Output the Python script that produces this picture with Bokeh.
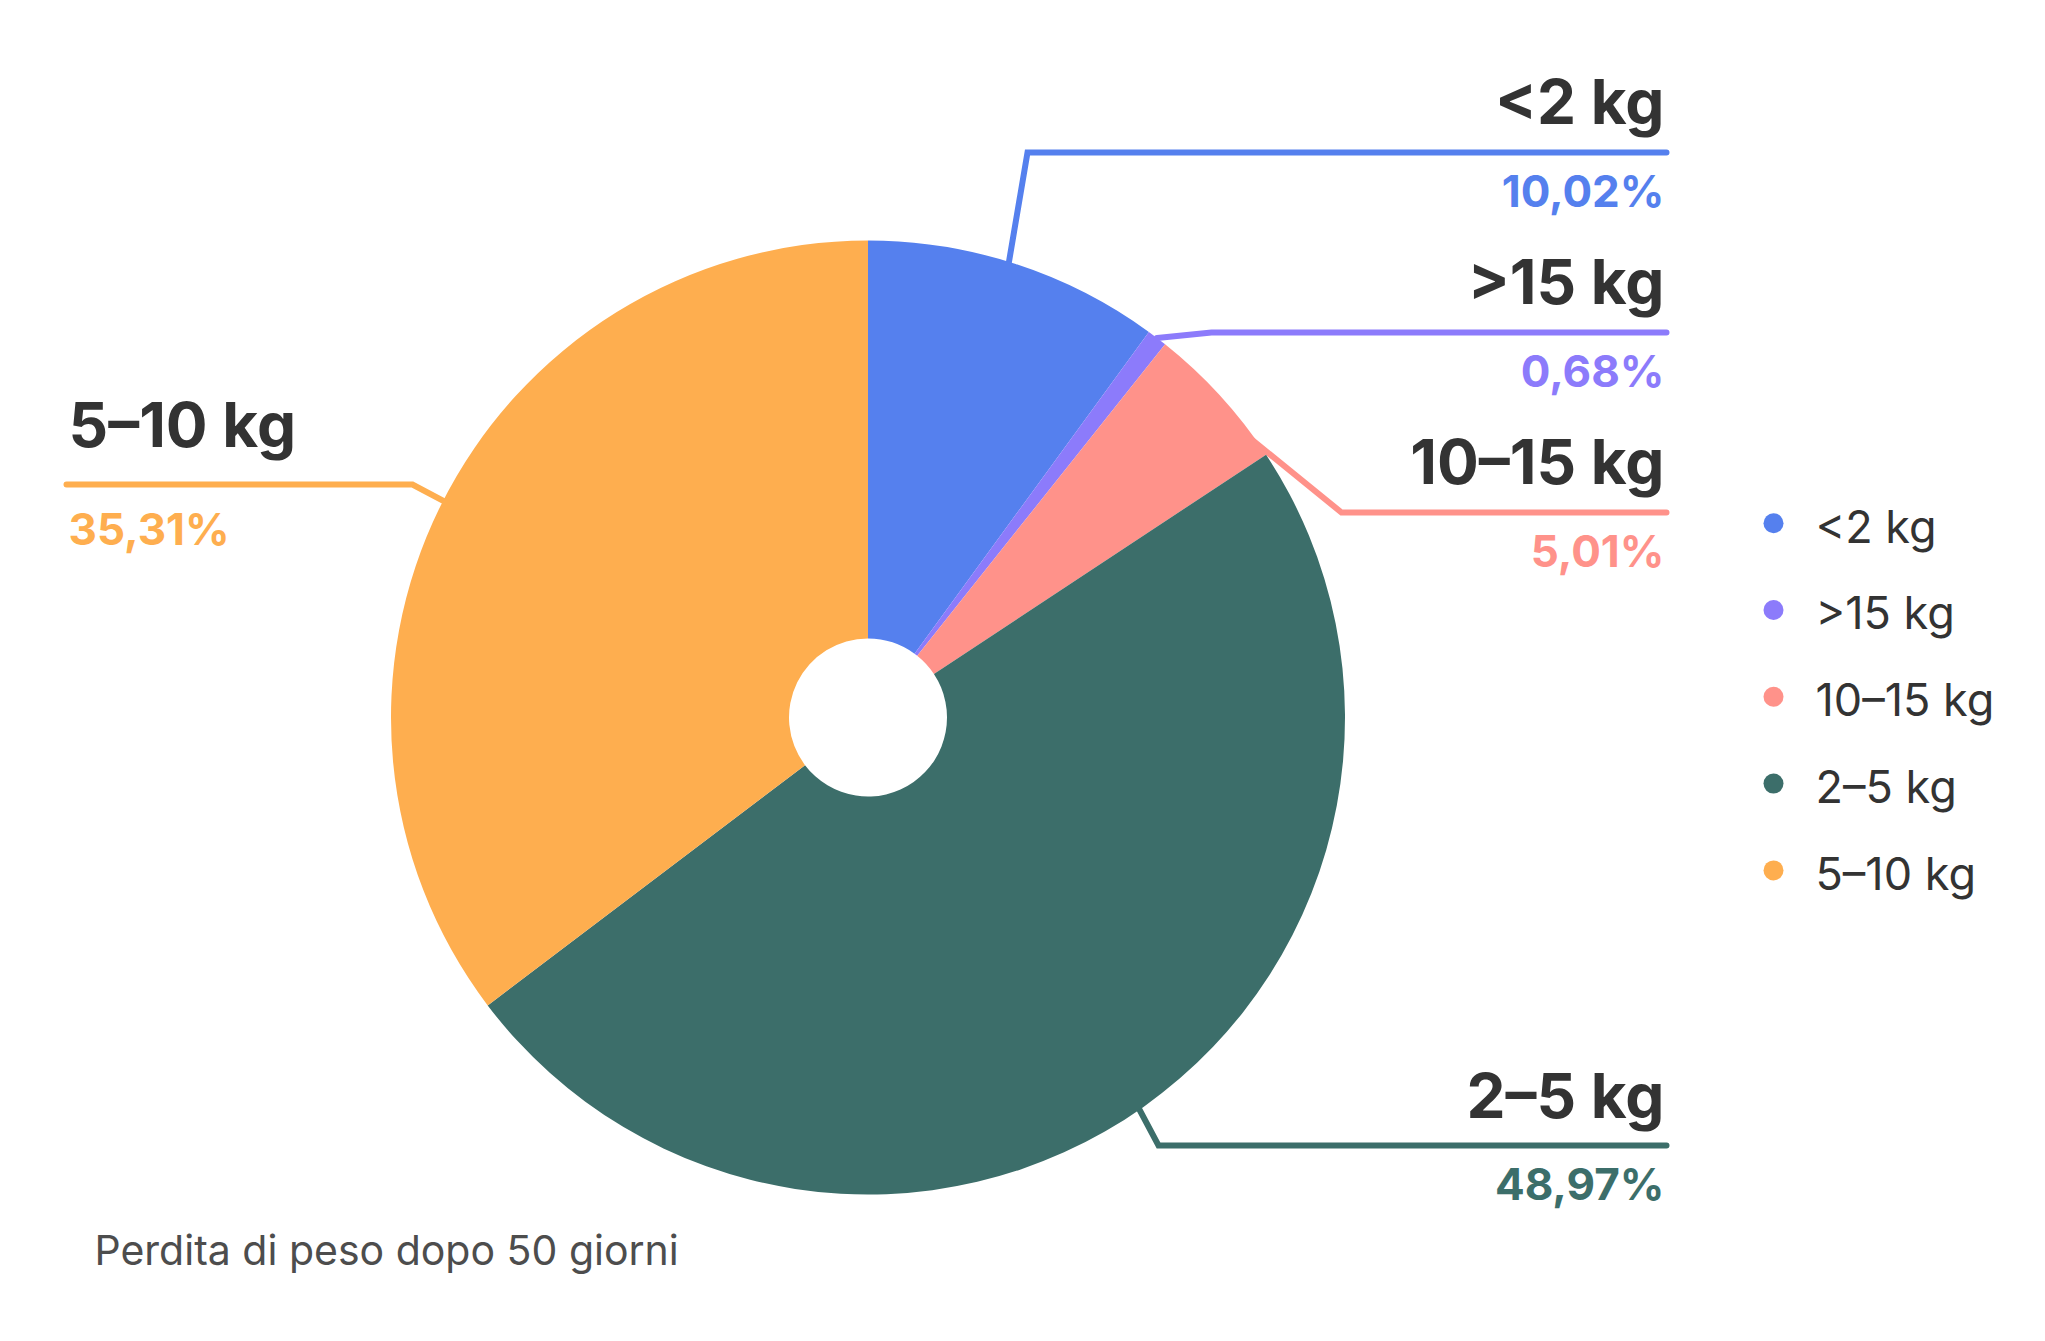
import math
from bokeh.plotting import figure
from bokeh.models import Range1d, ColumnDataSource
from bokeh.core.properties import value
from bokeh.embed import file_html
from bokeh.resources import INLINE

# ---------------- data ----------------
categories = ["<2 kg", ">15 kg", "10–15 kg", "2–5 kg", "5–10 kg"]
shares = [10.02, 0.68, 5.01, 48.97, 35.31]
colors = ["#5580EE", "#8C7BFB", "#FF928A", "#3C6E6A", "#FEAE4F"]
subtitle = "Perdita di peso dopo 50 giorni"

# ---------------- layout (page pixels, y measured downward) ----------------
FIG_W, FIG_H = 2029, 1325
CX, CY = 867.5, 717
R_OUT, R_IN = 477, 79
label_side = ["right", "right", "right", "right", "left"]
label_line_y = [152, 332, 512, 1145, 484]
elbow_x = [1027, 1211, 1341, 1158, 412]
anchor_frac = [0.9, 1.0, 0.97, 0.92, 0.6]
title_off = [-29, -29, -29, -28, -38]
pct_off = [54, 54, 54, 54, 60]
RIGHT_X, LEFT_X = 1666, 66
LEG_DOT_X, LEG_TEXT_X, LEG_Y0, LEG_STEP = 1773, 1815, 522.7, 86.8
FONT = "Inter"
DARK = "#333333"
TITLE_PX, PCT_PX, LEG_PX, SUB_PX = 62, 44, 45, 41
MID = 0.36  # distance from baseline to the middle of the em box, in em


def Y(py):
    return FIG_H - py


def mid_y(baseline, size):
    return Y(baseline - MID * size)


p = figure(width=FIG_W, height=FIG_H,
           x_range=Range1d(0, FIG_W), y_range=Range1d(0, FIG_H),
           x_axis_type=None, y_axis_type=None,
           toolbar_location=None, output_backend="svg", min_border=0)
p.grid.visible = False
p.outline_line_color = None
p.background_fill_color = "white"
p.border_fill_color = "white"

# angles (clockwise from top)
total = sum(shares)
starts, ends, mids = [], [], []
acc = 0.0
for s in shares:
    a0 = acc / total * 2 * math.pi
    acc += s
    a1 = acc / total * 2 * math.pi
    starts.append(math.pi / 2 - a0)
    ends.append(math.pi / 2 - a1)
    mids.append((a0 + a1) / 2)

# leader lines (drawn first, so the pie covers their inner part)
xs, ys = [], []
for i in range(len(shares)):
    r = R_OUT * anchor_frac[i]
    ax = CX + r * math.sin(mids[i])
    ay = CY - r * math.cos(mids[i])
    ly = label_line_y[i]
    end_x = RIGHT_X if label_side[i] == "right" else LEFT_X
    xs.append([ax, elbow_x[i], end_x])
    ys.append([Y(ay), Y(ly), Y(ly)])
p.multi_line(xs=xs, ys=ys, line_color=colors, line_width=6,
             line_cap="round", line_join="miter")

# pie
src = ColumnDataSource(dict(cat=categories, share=shares, color=colors,
                            start=starts, end=ends))
p.annular_wedge(x=CX, y=Y(CY), inner_radius=R_IN, outer_radius=R_OUT,
                start_angle="start", end_angle="end", direction="clock",
                fill_color="color", line_color=None, source=src)

# labels
for i, cat in enumerate(categories):
    side = label_side[i]
    tx = RIGHT_X - 2 if side == "right" else LEFT_X + 2
    align = "right" if side == "right" else "left"
    ly = label_line_y[i]
    pct = f"{shares[i]:.2f}".replace(".", ",") + "%"
    p.text(x=[tx], y=[mid_y(ly + title_off[i], TITLE_PX)], text=[cat],
           text_font=value(FONT), text_font_size=f"{TITLE_PX}px",
           text_font_style="bold", text_color=DARK,
           text_align=align, text_baseline="middle")
    p.text(x=[tx], y=[mid_y(ly + pct_off[i], PCT_PX)], text=[pct],
           text_font=value(FONT), text_font_size=f"{PCT_PX}px",
           text_font_style="bold", text_color=colors[i],
           text_align=align, text_baseline="middle")

# legend
leg_y = [LEG_Y0 + k * LEG_STEP for k in range(len(categories))]
p.scatter(x=[LEG_DOT_X] * len(categories), y=[Y(v) for v in leg_y],
          size=20, marker="circle", fill_color=colors, line_color=None)
p.text(x=[LEG_TEXT_X] * len(categories),
       y=[mid_y(v + 19, LEG_PX) for v in leg_y],
       text=categories, text_font=value(FONT), text_font_size=f"{LEG_PX}px",
       text_color=DARK, text_align="left", text_baseline="middle")

# subtitle
p.text(x=[94], y=[mid_y(1264, SUB_PX)], text=[subtitle], text_font=value(FONT),
       text_font_size=f"{SUB_PX}px", text_color="#4D4D4D",
       text_align="left", text_baseline="middle")

open("out.html", "w").write(file_html(p, INLINE))
